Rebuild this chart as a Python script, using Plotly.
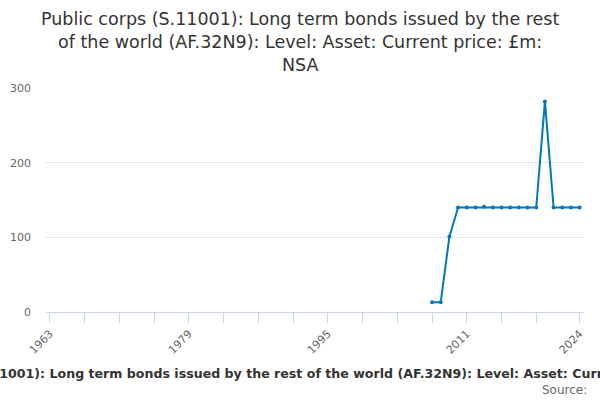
import plotly.graph_objects as go

# ── DATA ────────────────────────────────────────────────────────
years = list(range(2007, 2025))
values = [13, 13, 101, 140, 140, 140, 141, 140, 140, 140,
          140, 140, 140, 282, 140, 140, 140, 140]

tick_years = [1963, 1967, 1971, 1975, 1979, 1983, 1987, 1991, 1995,
              1999, 2003, 2007, 2011, 2015, 2019, 2024]
tick_labels = ['1963', '', '', '', '1979', '', '', '', '1995',
               '', '', '', '2011', '', '', '2024']

title_text = ('Public corps (S.11001): Long term bonds issued by the rest<br>'
              'of the world (AF.32N9): Level: Asset: Current price: £m:<br>NSA')
axis_title = ('Public corps (S.11001): Long term bonds issued by the rest of the '
              'world (AF.32N9): Level: Asset: Current price: £m: NSA')

# plot area in pixels (left 46, right 584, top 88, bottom 312)
L, R, T, B = 46, 584, 88, 312
W, H = R - L, B - T


def px_x(x):
    return (x - L) / W


def px_y(y):
    return (B - y) / H


# ── FIGURE ──────────────────────────────────────────────────────
fig = go.Figure()
fig.add_trace(go.Scatter(
    x=years, y=values,
    mode='lines+markers',
    line=dict(color='#0077be', width=2),
    marker=dict(color='#0077be', size=4),
    showlegend=False,
    hoverinfo='x+y'
))

font = 'DejaVu Sans, Verdana, sans-serif'

fig.update_layout(
    width=600, height=400,
    margin=dict(l=L, r=600 - R, t=T, b=400 - B, autoexpand=False),
    paper_bgcolor='white', plot_bgcolor='white',
    font=dict(family=font, color='#666666', size=11),
    xaxis=dict(
        range=[1962.55, 2024.5], automargin=False,
        tickmode='array', tickvals=tick_years, ticktext=tick_labels,
        tickangle=-45, ticks='outside', ticklen=10, tickcolor='#ccd6eb',
        showline=True, linecolor='#ccd6eb', linewidth=1,
        showgrid=False, zeroline=False,
        tickfont=dict(size=11, color='#666666'),
    ),
    yaxis=dict(
        range=[0, 300], tickvals=[0, 100, 200, 300], automargin=False,
        showgrid=True, gridcolor='#e6e6e6', zeroline=False,
        showline=False, ticks='', ticklabelstandoff=14,
        tickfont=dict(size=11, color='#666666'),
    ),
    annotations=[
        dict(text=title_text, xref='paper', yref='paper',
             x=px_x(300), y=px_y(7), xanchor='center', yanchor='top',
             showarrow=False, align='center',
             font=dict(size=17.5, color='#333333', family=font)),
        dict(text='<b>' + axis_title + '</b>', xref='paper', yref='paper',
             x=px_x(308), y=px_y(373), xanchor='center', yanchor='middle',
             showarrow=False, font=dict(size=12.6, color='#333333', family=font)),
        dict(text='Source:', xref='paper', yref='paper',
             x=px_x(589), y=px_y(390), xanchor='right', yanchor='middle',
             showarrow=False, font=dict(size=12, color='#666666', family=font)),
    ],
)

# page body has a default 8px margin; drop it so the figure sits at 0,0
fig.write_html('out.html', config={'displayModeBar': False},
               post_script="document.body.style.margin='0';")
